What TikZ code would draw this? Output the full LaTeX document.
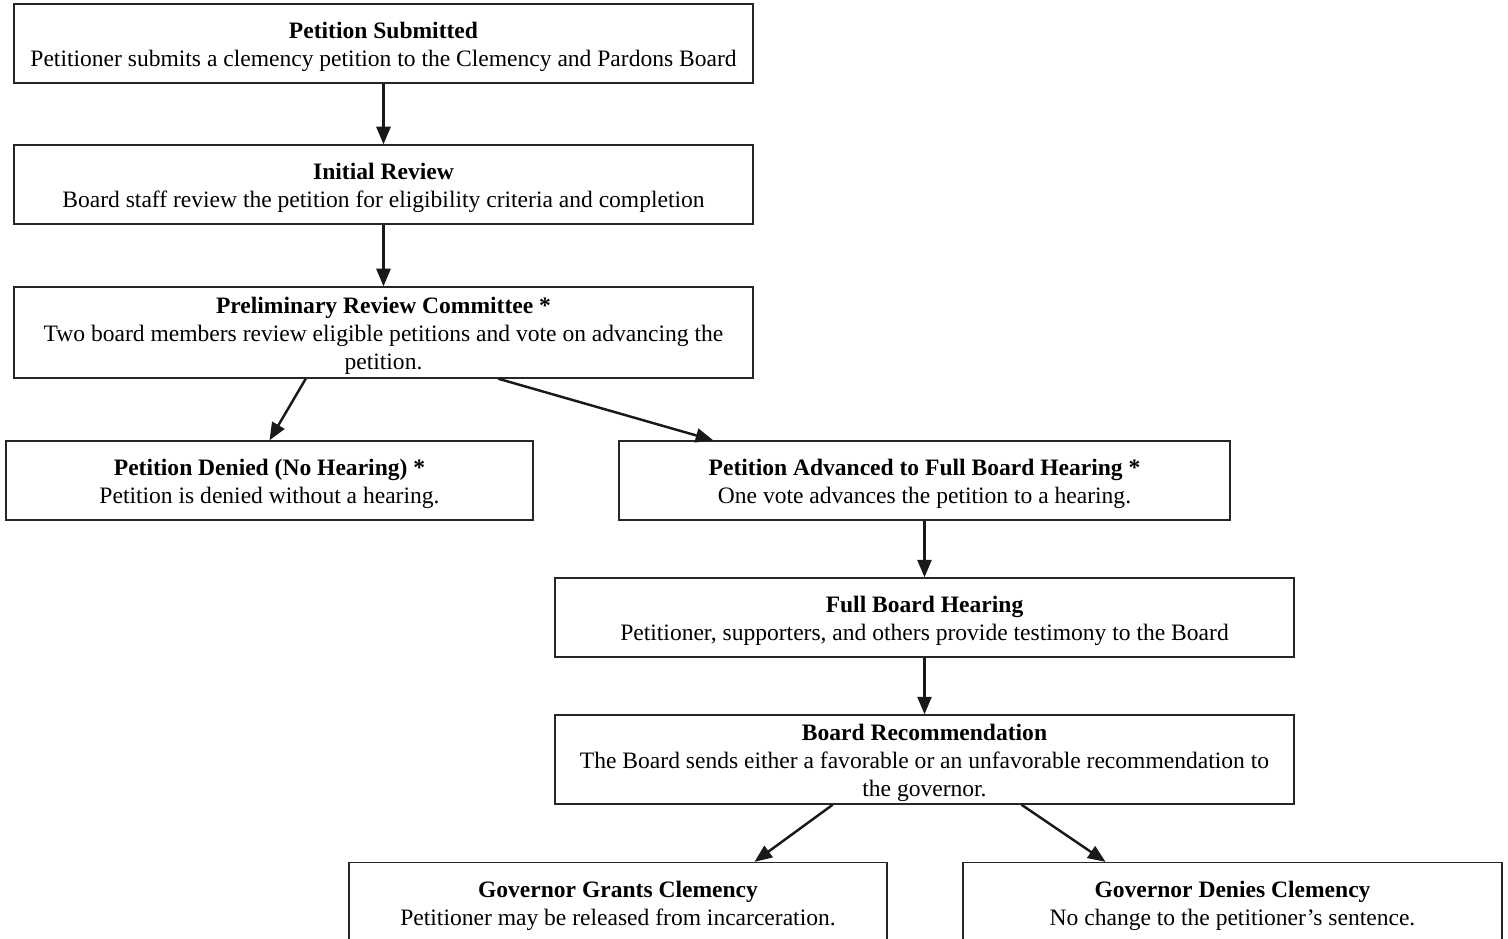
\documentclass[tikz,border=0pt]{standalone}
\usepackage{fontspec}
\setmainfont{Liberation Serif}
\usetikzlibrary{arrows.meta,calc}
\begin{document}
\begin{tikzpicture}[x=0.02cm,y=-0.02cm,
 box/.style={draw=black!85, line width=0.8pt, inner sep=0pt},
 txt/.style={align=center, inner sep=0pt, yshift=-0.07cm, font=\fontsize{13.4}{15.9}\selectfont},
 arr/.style={line width=1.4pt, draw=black!90, -{Triangle[length=10pt,width=8pt]}}]
\useasboundingbox (0,0) rectangle (1508,938);
\clip (0,0) rectangle (1508,938);
\node[box, minimum width=14.78cm, minimum height=1.58cm,
 label={[txt]center:{\textbf{Petition Submitted}\\Petitioner submits a clemency petition to the Clemency and Pardons Board}}] (ps) at (383.5,43.5) {};
\node[box, minimum width=14.78cm, minimum height=1.58cm,
 label={[txt]center:{\textbf{Initial Review}\\Board staff review the petition for eligibility criteria and completion}}] (ir) at (383.5,184.5) {};
\node[box, minimum width=14.78cm, minimum height=1.82cm,
 label={[txt]center:{\textbf{Preliminary Review Committee *}\\Two board members review eligible petitions and vote on advancing the\\petition.}}] (prc) at (383.5,332.5) {};
\node[box, minimum width=10.54cm, minimum height=1.58cm,
 label={[txt]center:{\textbf{Petition Denied (No Hearing) *}\\Petition is denied without a hearing.}}] (pd) at (269.5,480.5) {};
\node[box, minimum width=12.22cm, minimum height=1.58cm,
 label={[txt]center:{\textbf{Petition Advanced to Full Board Hearing *}\\One vote advances the petition to a hearing.}}] (pa) at (924.5,480.5) {};
\node[box, minimum width=14.78cm, minimum height=1.58cm,
 label={[txt]center:{\textbf{Full Board Hearing}\\Petitioner, supporters, and others provide testimony to the Board}}] (fbh) at (924.5,617.5) {};
\node[box, minimum width=14.78cm, minimum height=1.78cm,
 label={[txt]center:{\textbf{Board Recommendation}\\The Board sends either a favorable or an unfavorable recommendation to\\the governor.}}] (br) at (924.5,759.5) {};
\node[box, minimum width=10.76cm, minimum height=1.58cm,
 label={[txt]center:{\textbf{Governor Grants Clemency}\\Petitioner may be released from incarceration.}}] (gg) at (618,902) {};
\node[box, minimum width=10.78cm, minimum height=1.58cm,
 label={[txt]center:{\textbf{Governor Denies Clemency}\\No change to the petitioner’s sentence.}}] (gd) at (1232.5,902) {};
\draw[arr] (ps) -- (ir);
\draw[arr] (ir) -- (prc);
\draw[arr] ($(prc.south west)!0.395!(prc.south east)$) -- (pd.north);
\draw[arr] ($(prc.south west)!0.655!(prc.south east)$) -- ($(pa.north west)!0.155!(pa.north east)$);
\draw[arr] (pa) -- (fbh);
\draw[arr] (fbh) -- (br);
\draw[arr] ($(br.south west)!0.376!(br.south east)$) -- ($(gg.north west)!0.753!(gg.north east)$);
\draw[arr] ($(br.south west)!0.631!(br.south east)$) -- ($(gd.north west)!0.265!(gd.north east)$);
\end{tikzpicture}
\end{document}
